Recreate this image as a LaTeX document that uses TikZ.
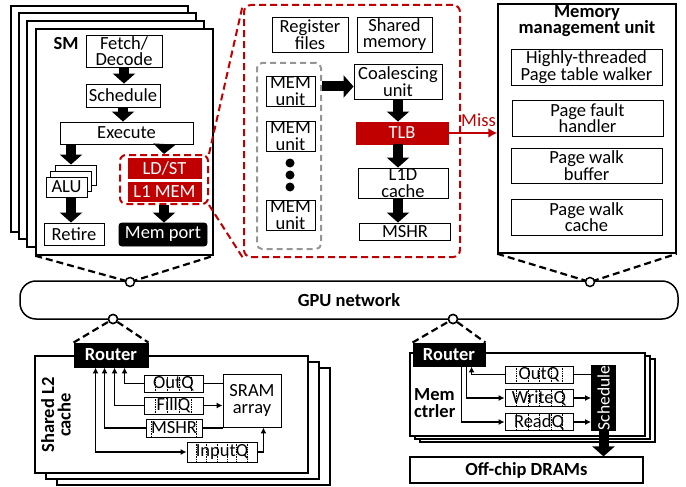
\documentclass[tikz,border=0pt]{standalone}
\usepackage{fontspec}
\setmainfont{Carlito}
\usetikzlibrary{arrows.meta,calc}
\definecolor{dred}{RGB}{192,0,0}
\definecolor{dgray}{RGB}{150,150,150}
\newcommand{\tf}{\fontsize{18.5}{16.5}\selectfont}
\newcommand{\smallerf}{\fontsize{17.5}{16}\selectfont}
\begin{document}
\begin{tikzpicture}[x=1pt,y=-1pt,
  box/.style={draw, line width=0.9pt, fill=white, inner sep=0pt, align=center, font=\tf},
  redbox/.style={box, draw=dred, fill=dred, text=white},
  blk/.style={box, fill=black, text=white, rounded corners=3pt},
  stk/.style={draw, line width=1.5pt, fill=white},
  qbox/.style={box, path picture={\foreach \qq in {#1}{\draw[densely dotted, line width=0.7pt] ($(path picture bounding box.north west)!\qq!(path picture bounding box.north east)$) -- ($(path picture bounding box.south west)!\qq!(path picture bounding box.south east)$);}}},
  barrow/.style={line width=10pt, -{Triangle[width=22pt,length=10pt]}},
  dline/.style={line width=2.2pt, dash pattern=on 7pt off 4pt},
  rdline/.style={line width=2pt, dred, dash pattern=on 7pt off 4pt},
  conn/.style={line width=1.5pt},
  tip/.style={-{Latex[length=6pt,width=6pt]}},
  circ/.style={circle, draw, line width=1.5pt, fill=white, minimum size=9pt, inner sep=0pt},
  bold/.style={font=\bfseries\tf, align=center, inner sep=0pt}
]
\useasboundingbox (0,0) rectangle (686,487);

% ---------------- SM stack ----------------
\draw[stk] (11,6) rectangle (188,232);
\draw[stk] (19,13) rectangle (196,239);
\draw[stk] (27,21) rectangle (204,247);
\node[stk, minimum width=177pt, minimum height=226pt] (sm) at (124.5,142) {};
\node[bold] (smlab) at (66,43) {SM};
\node[box, minimum width=76pt, minimum height=32pt] (fetch) at (124,51) {Fetch/\\Decode};
\node[box, minimum width=74pt, minimum height=23pt] (sched) at (123,95.5) {Schedule};
\node[box, minimum width=133pt, minimum height=22pt] (exec) at (126.5,133) {Execute};
\node[box, minimum width=41pt, minimum height=20pt] (alu3) at (75.5,175) {};
\node[box, minimum width=41pt, minimum height=20pt] (alu2) at (71,181) {};
\node[box, minimum width=41pt, minimum height=20pt] (alu) at (66.5,187) {ALU};
\node[redbox, minimum width=73pt, minimum height=20pt] (ldst) at (164.5,168) {LD/ST};
\node[redbox, minimum width=73pt, minimum height=19pt] (l1mem) at (164.5,191.5) {L1 MEM};
\node[rdline, draw, rounded corners=6pt, minimum width=88pt, minimum height=49pt] (ldbox) at (164,179.5) {};
\node[box, minimum width=60pt, minimum height=22pt] (retire) at (74,234) {Retire};
\node[blk, minimum width=88pt, minimum height=23pt] (memport) at (163,234.5) {Mem port};
\draw[barrow] (fetch.south) -- (fetch.south |- sched.north);
\draw[barrow] (sched.south) -- (sched.south |- exec.north);
\draw[barrow] (exec.south -| alu2.center) -- (alu3.north -| alu2.center);
\draw[barrow] (exec.south -| ldst.north) -- (ldbox.north);
\draw[barrow] (alu.south -| alu2.center) -- (retire.north -| alu2.center);
\draw[barrow] (ldbox.south) -- (ldbox.south |- memport.north);

% ---------------- zoomed LD/ST ----------------
\node[rdline, draw, rounded corners=7pt, minimum width=216pt, minimum height=252pt] (zoom) at (352,131) {};
\draw[rdline] (ldbox.north east) -- (zoom.north west);
\draw[rdline] (ldbox.south east) -- (zoom.south west);
\node[box, minimum width=76pt, minimum height=35pt] (regf) at (310,34.5) {Register\\files};
\node[box, minimum width=75pt, minimum height=35pt] (shm) at (394.5,34.5) {Shared\\memory};
\node[draw=dgray, line width=2pt, dash pattern=on 6pt off 4pt, rounded corners=5pt, minimum width=64pt, minimum height=186pt] (gray) at (289,156) {};
\node[box, minimum width=49pt, minimum height=30pt] (mem1) at (290.5,91) {MEM\\unit};
\node[box, minimum width=49pt, minimum height=30pt] (mem2) at (290.5,136) {MEM\\unit};
\node[box, minimum width=49pt, minimum height=30pt] (mem3) at (290.5,215) {MEM\\unit};
\fill (290,163) circle (4.5pt) (290,175) circle (4.5pt) (290,187) circle (4.5pt);
\node[box, minimum width=88pt, minimum height=35pt] (coal) at (398,81.5) {Coalescing\\unit};
\node[redbox, minimum width=92pt, minimum height=22pt] (tlb) at (402,133) {TLB};
\node[box, minimum width=90pt, minimum height=30pt] (l1d) at (403,183) {L1D\\cache};
\node[box, minimum width=91pt, minimum height=17pt] (mshr) at (405,231.5) {MSHR};
\draw[barrow] ([yshift=-5pt]coal.west -| gray.east) -- ([yshift=-5pt]coal.west);
\draw[barrow] (coal.south) -- (coal.south |- tlb.north);
\draw[barrow] (tlb.south -| coal.south) -- (l1d.north -| coal.south);
\draw[barrow] (l1d.south -| coal.south) -- (mshr.north -| coal.south);

% ---------------- MMU ----------------
\node[stk, minimum width=178pt, minimum height=249pt] (mmu) at (587,128.5) {};
\node[bold] (mmulab) at (587,21) {Memory\\management unit};
\node[box, minimum width=151pt, minimum height=36pt] (ptw) at (586.5,67) {Highly-threaded\\Page table walker};
\node[box, minimum width=151pt, minimum height=36pt] (pfh) at (587.5,118) {Page fault\\handler};
\node[box, minimum width=151pt, minimum height=35pt] (pwb) at (586.5,165.5) {Page walk\\buffer};
\node[box, minimum width=151pt, minimum height=36pt] (pwc) at (586.5,217) {Page walk\\cache};
\draw[line width=2pt, dred, -{Latex[length=9pt,width=10pt]}] (tlb.east) -- (tlb.east -| mmu.west);
\node[font=\tf, text=dred, inner sep=0pt] (miss) at (478.5,120) {Miss};

% ---------------- network ----------------
\coordinate (c1p) at (130,282);
\coordinate (c2p) at (590,282);
\draw[dline] (sm.south west) -- (c1p) -- (sm.south east);
\draw[dline] (mmu.south west) -- (c2p) -- (mmu.south east);
\node[draw, line width=1.5pt, rounded corners=16pt, minimum width=658pt, minimum height=38pt, font=\bfseries\tf] (net) at (349,300) {GPU network};
\node[circ] (c1) at (c1p) {};
\node[circ] (c2) at (c2p) {};

% ---------------- Shared L2 ----------------
\draw[stk] (57,368) rectangle (330,485);
\draw[stk] (46,362) rectangle (319,479);
\node[stk, minimum width=273pt, minimum height=117pt] (l2) at (171.5,414.5) {};
\node[blk, rounded corners=0pt, font=\bfseries\tf, minimum width=74pt, minimum height=24pt] (r1) at (111,355) {Router};
\node[circ] (c3) at (113,319) {};
\draw[dline] (r1.north west) -- (c3) -- (r1.north east);
\node[circ] at (c3) {};
\node[bold, rotate=90] (l2lab) at (56,415) {Shared L2\\cache};
\node[qbox={0.2,0.4,0.6,0.8}, minimum width=59pt, minimum height=17pt] (outq) at (173.5,383.5) {OutQ};
\node[qbox={0.2,0.4,0.6,0.8}, minimum width=59pt, minimum height=17pt] (fillq) at (173.5,405.5) {FillQ};
\node[qbox={0.1,0.9}, minimum width=56pt, minimum height=18pt] (mshrq) at (174,428) {MSHR};
\node[qbox={0.14,0.28,0.43,0.57,0.71,0.86}, minimum width=70pt, minimum height=20pt] (inq) at (222,452) {InputQ};
\node[box, minimum width=58pt, minimum height=53pt] (sram) at (252,400.5) {SRAM\\array};
\draw[conn] (outq.east) -- (outq.east -| sram.west);
\draw[conn, tip] (fillq.east) -- (fillq.east -| sram.west);
\draw[conn] (mshrq.east) -- (mshrq.east -| sram.west);
\draw[conn, tip] (inq.east) -| ([xshift=6pt]inq.east |- sram.south);
\draw[conn, tip] (outq.west) -| ([xshift=51pt]r1.south west);
\draw[conn, tip] (fillq.west) -| ([xshift=41pt]r1.south west);
\draw[conn, tip] (mshrq.west) -| ([xshift=31pt]r1.south west);
\draw[conn, {Latex[length=6pt,width=6pt]}-{Latex[length=6pt,width=6pt]}] ([xshift=22pt]r1.south west) |- (inq.west);

% ---------------- Mem ctrler ----------------
\draw[stk] (420,359) rectangle (655,442);
\draw[stk] (415,356) rectangle (650,439);
\node[stk, minimum width=235pt, minimum height=83pt] (mc) at (527.5,394.5) {};
\node[blk, rounded corners=0pt, font=\bfseries\tf, minimum width=72pt, minimum height=23pt] (r2) at (449,354.5) {Router};
\node[circ] (c4) at (453,319) {};
\draw[dline] (r2.north west) -- (c4) -- (r2.north east);
\node[circ] at (c4) {};
\node[font=\bfseries\tf, align=left, inner sep=0pt, anchor=west] (mclab) at (414,403) {Mem\\ctrler};
\node[qbox={0.17,0.34,0.51,0.68,0.85}, minimum width=68pt, minimum height=17pt] (oq2) at (539,374.5) {OutQ};
\node[qbox={0.17,0.34,0.51,0.68,0.85}, minimum width=68pt, minimum height=17pt] (wq) at (539,398) {WriteQ};
\node[qbox={0.17,0.34,0.51,0.68,0.85}, minimum width=68pt, minimum height=17pt] (rq) at (539,422) {ReadQ};
\node[blk, rounded corners=0pt, font=\smallerf, minimum width=24pt, minimum height=65pt] (sch) at (603.5,398) {\rotatebox{90}{Schedule}};
\draw[conn] (oq2.east) -- (oq2.east -| sch.west);
\draw[conn, tip] (wq.east) -- (wq.east -| sch.west);
\draw[conn, tip] (rq.east) -- (rq.east -| sch.west);
\draw[conn, tip] (oq2.west) -| ([xshift=59pt]r2.south west);
\draw[conn, tip] ([xshift=54pt]r2.south west) |- (wq.west);
\draw[conn, tip] ([xshift=49pt]r2.south west) |- (rq.west);
\node[box, line width=1.2pt, font=\bfseries\tf, minimum width=233pt, minimum height=26pt] (dram) at (526.5,470) {Off-chip DRAMs};
\draw[barrow] (sch.south) -- (sch.south |- dram.north);
\end{tikzpicture}
\end{document}
